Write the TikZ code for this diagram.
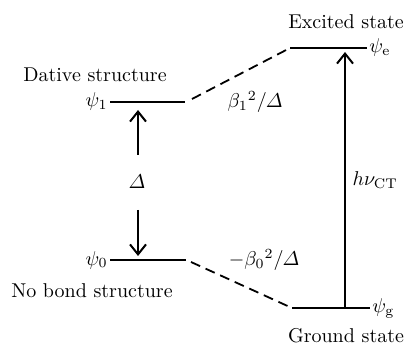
\documentclass[tikz,border=0pt]{standalone}
\usepackage{amsmath,amssymb}
\usepackage{tikz}
\usetikzlibrary{arrows.meta}

\begin{document}
\begin{tikzpicture}[x=0.5pt, y=-0.5pt,
    level/.style={draw, line width=1.3pt},
    mix/.style={draw, dashed, line width=0.9pt, dash pattern=on 5pt off 3pt},
    line/.style={draw, line width=0.9pt, -{Straight Barb[length=5pt, width=8pt, line width=1pt]}},
    lbl/.style={inner sep=1pt}]

    \useasboundingbox (0,0) rectangle (405,346);

    % Levels
    \coordinate (d1) at (110,102);  \coordinate (d2) at (185,102);
    \coordinate (n1) at (110,260);  \coordinate (n2) at (186,260);
    \coordinate (e1) at (290,48);   \coordinate (e2) at (367,48);
    \coordinate (g1) at (292,308);  \coordinate (g2) at (370,308);
    \path [level] (d1) -- (d2);
    \path [level] (n1) -- (n2);
    \path [level] (e1) -- (e2);
    \path [level] (g1) -- (g2);

    % Nodes
    \node [lbl, anchor=east] (psi1) at (d1) {$\psi_1$};
    \node [lbl, anchor=east] (psi0) at (n1) {$\psi_0$};
    \node [lbl, anchor=west] (psie) at (e2) {$\psi_{\mathrm{e}}$};
    \node [lbl, anchor=west] (psig) at (g2) {$\psi_{\mathrm{g}}$};
    \node (dative) at (95,75) {Dative structure};
    \node (nobond) at (92,291) {No bond structure};
    \node (excited) at (346,22) {Excited state};
    \node (ground) at (346,336) {Ground state};
    \node (delta) at (137,182) {$\varDelta$};
    \node (b1) at (255,102) {$\beta_1{}^2/\varDelta$};
    \node (b0) at (264,260) {$-\beta_0{}^2/\varDelta$};
    \coordinate (up0) at (138,155);  \coordinate (up1) at (138,110);
    \coordinate (dn0) at (138,210);  \coordinate (dn1) at (138,256);
    \coordinate (ct0) at (345,308);  \coordinate (ct1) at (345,52);

    % Paths
    \path [mix] (d2) ++(7,-3) coordinate (m1) (m1) -- (e1);
    \path [mix] (n2) ++(5,2) coordinate (m0) (m0) -- (g1);
    \path [line] (up0) -- (up1);
    \path [line] (dn0) -- (dn1);
    \path [line] (ct0) -- node [right, pos=0.5] {$h\nu_{\mathrm{CT}}$} (ct1);

\end{tikzpicture}
\end{document}
